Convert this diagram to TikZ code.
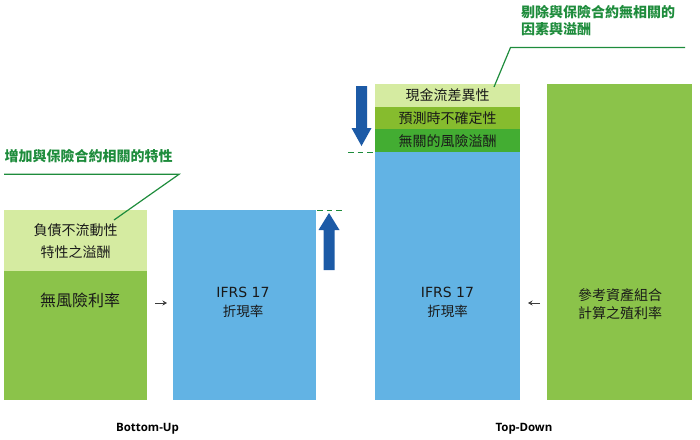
\documentclass[tikz,border=0pt]{standalone}
\usepackage{fontspec}
\setmainfont{Open Sans}
\newfontfamily\cjk{Noto Sans CJK TC}
\newfontfamily\lat{DejaVu Sans}
\usetikzlibrary{arrows.meta}
\definecolor{lgreen}{RGB}{213,235,161}
\definecolor{dgreen}{RGB}{139,195,74}
\definecolor{mgreen}{RGB}{134,188,46}
\definecolor{rgreen}{RGB}{67,173,50}
\definecolor{bblue}{RGB}{98,179,228}
\definecolor{ablue}{RGB}{28,90,166}
\definecolor{tgreen}{RGB}{30,140,60}
\definecolor{agray}{RGB}{60,60,60}
\definecolor{ink}{RGB}{25,25,25}
\begin{document}
\begin{tikzpicture}[x=1pt,y=-1pt,
  box/.style={draw=none,inner sep=0pt,anchor=north west,align=center,text=ink,
    font=\cjk\fontsize{14}{22}\selectfont},
  lbl/.style={inner sep=0pt,align=center,text=ink,font=\cjk\fontsize{14}{18.5}\selectfont},
  ifrs/.style={inner sep=0pt,align=center,text=ink,font=\lat\fontsize{14}{19}\selectfont},
  call/.style={inner sep=0pt,text=tgreen,font=\cjk\bfseries\fontsize{14}{17.5}\selectfont},
  cline/.style={tgreen,line width=1.2pt},
  dline/.style={tgreen,line width=1.2pt,dash pattern=on 5.5pt off 4pt},
  blk/.style={fill=ablue,draw=none},
  sm/.style={agray,line width=0.9pt,-{Stealth[length=4.5pt,width=5pt]}},
  foot/.style={inner sep=0pt,font=\bfseries\fontsize{11.5}{13}\selectfont}]
\useasboundingbox (0,0) rectangle (700,439);
% left column
\node[box,fill=lgreen,minimum width=143pt,minimum height=61pt] (liq) at (4,210) {負債不流動性\\特性之溢酬};
\node[box,fill=dgreen,minimum width=143pt,minimum height=129pt] (rf) at (4,271) {};
\node[lbl,font=\cjk\fontsize{16}{20}\selectfont] (rft) at (80,300) {無風險利率};
% blue box 1
\node[box,fill=bblue,minimum width=143pt,minimum height=190pt] (b1) at (173,210) {};
\node[ifrs] (b1t) at (243,302) {IFRS 17\\{\cjk\fontsize{13.5}{19}\selectfont 折現率}};
% blue box 2 with bands
\node[box,fill=bblue,minimum width=145pt,minimum height=248pt] (b2) at (375,152) {};
\node[box,fill=lgreen,minimum width=145pt,minimum height=22.5pt] (cf) at (375,84) {現金流差異性};
\node[box,fill=mgreen,minimum width=145pt,minimum height=22.5pt] (un) at (375,106.5) {預測時不確定性};
\node[box,fill=rgreen,minimum width=145pt,minimum height=23pt] (rp) at (375,129) {無關的風險溢酬};
\node[ifrs] (b2t) at (447.5,302) {IFRS 17\\{\cjk\fontsize{13.5}{19}\selectfont 折現率}};
% green box
\node[box,fill=dgreen,minimum width=145pt,minimum height=316pt] (ref) at (547,84) {};
\node[lbl] (reft) at (620,304) {參考資產組合\\計算之殖利率};
% small arrows
\coordinate (a1s) at (155,303); \coordinate (a1e) at (167,303);
\draw[sm] (a1s) -- (a1e);
\coordinate (a2s) at (540,303); \coordinate (a2e) at (528,303);
\draw[sm] (a2s) -- (a2e);
% block arrows
\fill[blk] (323.5,270) -- (334.5,270) -- (334.5,230) -- (339.5,230) -- (329,213) -- (318.5,230) -- (323.5,230) -- cycle;
\fill[blk] (356,86) -- (367,86) -- (367,128) -- (371.5,128) -- (361.5,146) -- (351.5,128) -- (356,128) -- cycle;
% dashed levels
\coordinate (d1s) at (317,210.5); \coordinate (d1e) at (342,210.5);
\draw[dline] (d1s) -- (d1e);
\coordinate (d2s) at (348,152.5); \coordinate (d2e) at (374,152.5);
\draw[dline] (d2s) -- (d2e);
% callouts
\node[call,anchor=west] (c1) at (4.5,156) {增加與保險合約相關的特性};
\coordinate (c1a) at (4,174.3); \coordinate (c1b) at (179,174.3); \coordinate (c1c) at (114,220);
\draw[cline] (c1a) -- (c1b) -- (c1c);
\node[call,anchor=north west,align=left] (c2) at (521,5) {剔除與保險合約無相關的\\因素與溢酬};
\coordinate (c2a) at (685,47.5); \coordinate (c2b) at (510.5,47.5); \coordinate (c2c) at (494,87);
\draw[cline] (c2a) -- (c2b) -- (c2c);
% footers
\node[foot] (bu) at (147.5,429) {Bottom-Up};
\node[foot] (td) at (524,429) {Top-Down};
\end{tikzpicture}
\end{document}
